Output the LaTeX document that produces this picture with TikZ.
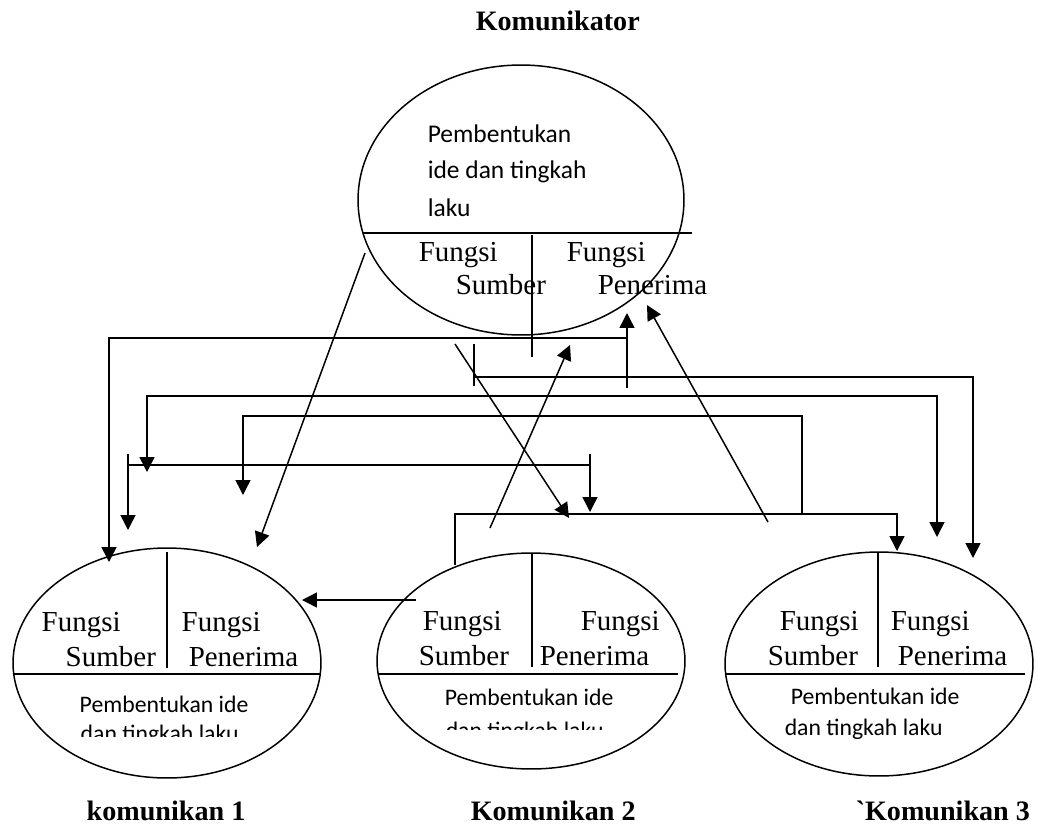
\documentclass[tikz,border=0pt]{standalone}
\usepackage{fontspec}
\setmainfont{Liberation Serif}
\newfontfamily\calibri{Carlito}
\usetikzlibrary{arrows.meta, shapes.geometric}

\begin{document}
\begin{tikzpicture}[x=0.02cm, y=-0.02cm, line width=0.85pt,
  pijl/.style={-{Triangle[length=8.5pt, width=8.5pt]}},
  dubbel/.style={{Triangle[length=8.5pt, width=8.5pt]}-{Triangle[length=8.5pt, width=8.5pt]}},
  bulat/.style={draw, ellipse, inner sep=0pt},
  fungsi/.style={anchor=base west, inner sep=0pt, font=\fontsize{16.5}{19}\selectfont},
  ide/.style={anchor=base west, inner sep=0pt, font=\calibri\fontsize{13.5}{16}\selectfont},
  judul/.style={anchor=base west, inner sep=0pt, font=\bfseries\fontsize{16}{19}\selectfont}]
  \useasboundingbox (0,0) rectangle (1037,825);

  % === KOMUNIKATOR (atas) ===
  \node[judul] (jkom) at (475,30) {Komunikator};
  \node[bulat, minimum width=6.52cm, minimum height=5.4cm] (kom) at (521,200) {};
  \draw (363,233) -- (692,233);
  \draw (532,235) -- (532,357);
  \node[ide, font=\calibri\fontsize{14.5}{17}\selectfont] (ikom1) at (427,142) {Pembentukan};
  \node[ide, font=\calibri\fontsize{14.5}{17}\selectfont] (ikom2) at (427,178) {ide dan tingkah};
  \node[ide, font=\calibri\fontsize{14.5}{17}\selectfont] (ikom3) at (427,216) {laku};
  \node[fungsi] (fskom) at (418,261) {Fungsi};
  \node[fungsi] (skom) at (455,294) {Sumber};
  \node[fungsi] (fpkom) at (566,261) {Fungsi};
  \node[fungsi] (pkom) at (597,294) {Penerima};

  % === KOMUNIKAN 1 ===
  \node[bulat, minimum width=6.16cm, minimum height=4.6cm] (kmn1) at (167,663) {};
  \draw (14,674) -- (320,674);
  \draw (167,552) -- (167,668);
  \node[fungsi] (fs1) at (41,631) {Fungsi};
  \node[fungsi] (s1) at (65,666) {Sumber};
  \node[fungsi] (fp1) at (181,631) {Fungsi};
  \node[fungsi] (p1) at (188,666) {Penerima};
  \node[ide] (ia1) at (79,712) {Pembentukan ide};
  \begin{scope}
    \clip (0,690) rectangle (360,736);
    \node[ide] (ib1) at (80,741) {dan tingkah laku};
  \end{scope}
  \node[judul] (jk1) at (86,820) {komunikan 1};

  % === KOMUNIKAN 2 ===
  \node[bulat, minimum width=6.16cm, minimum height=4.32cm] (kmn2) at (531,661) {};
  \draw (378,674) -- (678,674);
  \draw (532,553) -- (532,667);
  \node[fungsi] (fs2) at (422,630) {Fungsi};
  \node[fungsi] (s2) at (418,665) {Sumber};
  \node[fungsi] (fp2) at (580,630) {Fungsi};
  \node[fungsi] (p2) at (539,665) {Penerima};
  \node[ide] (ia2) at (444,705) {Pembentukan ide};
  \begin{scope}
    \clip (360,690) rectangle (720,729);
    \node[ide] (ib2) at (445,738) {dan tingkah laku};
  \end{scope}
  \node[judul] (jk2) at (470,820) {Komunikan 2};

  % === KOMUNIKAN 3 ===
  \node[bulat, minimum width=6.16cm, minimum height=4.48cm] (kmn3) at (879,664) {};
  \draw (725,674) -- (1025,674);
  \draw (878,553) -- (878,667);
  \node[fungsi] (fs3) at (779,630) {Fungsi};
  \node[fungsi] (s3) at (767,665) {Sumber};
  \node[fungsi] (fp3) at (890,630) {Fungsi};
  \node[fungsi] (p3) at (897,665) {Penerima};
  \node[ide] (ia3) at (790,704) {Pembentukan ide};
  \node[ide] (ib3) at (784,735) {dan tingkah laku};
  \node[judul] (jk3) at (855,820) {\textasciigrave Komunikan 3};

  % === Titik-titik penghubung ===
  \coordinate (a0) at (627,338); \coordinate (a1) at (109,562);
  \coordinate (a2) at (627,388); \coordinate (a3) at (627,313);
  \coordinate (b0) at (474,344); \coordinate (b1) at (474,386);
  \coordinate (b2) at (474,377); \coordinate (b3) at (973,558);
  \coordinate (c0) at (147,472); \coordinate (c1) at (500,396); \coordinate (c2) at (937,537);
  \coordinate (d0) at (243,495); \coordinate (d1) at (500,416); \coordinate (d2) at (802,514);
  \coordinate (e0) at (128,454); \coordinate (e1) at (128,530);
  \coordinate (e2) at (590,454); \coordinate (e3) at (590,512);
  \coordinate (e4) at (128,465); \coordinate (e5) at (590,465);
  \coordinate (f0) at (455,565); \coordinate (f1) at (700,514); \coordinate (f2) at (897,551);
  \coordinate (g0) at (365,253); \coordinate (g1) at (257,547);
  \coordinate (h0) at (455,344); \coordinate (h1) at (569,518);
  \coordinate (i0) at (490,528); \coordinate (i1) at (570,345);
  \coordinate (j0) at (768,522); \coordinate (j1) at (647,305);
  \coordinate (k0) at (416,600); \coordinate (k1) at (302,600);

  % === Garis-garis umpan balik ===
  \draw[pijl] (a0) -| (a1);
  \draw[pijl] (a2) -- (a3);
  \draw (b0) -- (b1);
  \draw[pijl] (b2) -| (b3);
  \draw[dubbel] (c0) |- (c1) -| (c2);
  \draw[pijl] (d2) |- (d1) -| (d0);
  \draw[pijl] (e0) -- (e1);
  \draw[pijl] (e2) -- (e3);
  \draw (e4) -- (e5);
  \draw[pijl] (f0) |- (f1) -| (f2);
  % panah miring
  \draw[pijl] (g0) -- (g1);
  \draw[pijl] (h0) -- (h1);
  \draw[pijl] (i0) -- (i1);
  \draw[pijl] (j0) -- (j1);
  \draw[pijl] (k0) -- (k1);
\end{tikzpicture}
\end{document}
